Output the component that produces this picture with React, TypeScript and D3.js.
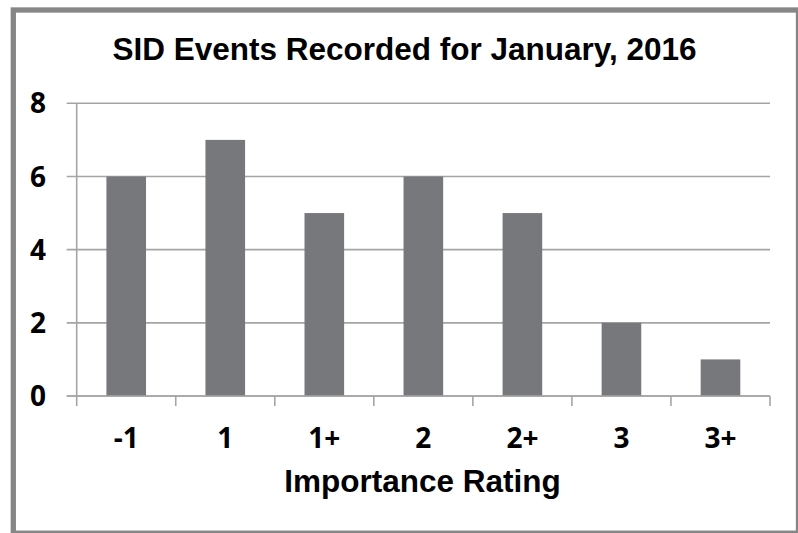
import React from "react";
import * as d3 from "d3";

const categories = ["-1", "1", "1+", "2", "2+", "3", "3+"];
const values = [6, 7, 5, 6, 5, 2, 1];
const yTicks = [0, 2, 4, 6, 8];
const title = "SID Events Recorded for January, 2016";
const xTitle = "Importance Rating";

export default function App() {
  const W = 798;
  const H = 533;
  const left = 76.7;
  const right = 770;
  const top = 103.3;
  const bottom = 396;

  const x = d3.scaleBand<string>().domain(categories).range([left, right]).paddingInner(0.6).paddingOuter(0.3);
  const xOuter = d3.scaleBand<string>().domain(categories).range([left, right]);
  const y = d3.scaleLinear().domain([0, 8]).range([bottom, top]);

  const gridColor = "#a5a5a5";
  const barColor = "#77787b";
  const tickFont = "'Open Sans', Lato, sans-serif";

  return (
    <svg
      width={W}
      height={H}
      viewBox={`0 0 ${W} ${H}`}
      style={{ position: "absolute", left: 0, top: 0, background: "#fff" }}
    >
      <rect x={0} y={0} width={W} height={H} fill="#fff" />
      <rect x={13.3} y={10} width={785.2} height={523.2} fill="none" stroke="#868686" strokeWidth={5.3} />

      <text
        x={404.5}
        y={60}
        textAnchor="middle"
        fontFamily="'Liberation Sans', Arial, sans-serif"
        fontWeight="bold"
        fontSize={31.5}
        fill="#000"
      >
        {title}
      </text>

      {yTicks.map((t) => (
        <g key={t}>
          <line x1={left - 10} x2={right} y1={y(t)} y2={y(t)} stroke={gridColor} strokeWidth={1.6} />
          <text
            x={46}
            y={y(t)}
            dy="0.36em"
            textAnchor="end"
            fontFamily={tickFont}
            fontWeight={700}
            fontSize={28}
            fill="#000"
          >
            {t}
          </text>
        </g>
      ))}

      {categories.map((c, i) => (
        <rect
          key={c}
          x={x(c)!}
          y={y(values[i])}
          width={x.bandwidth()}
          height={y(0) - y(values[i])}
          fill={barColor}
        />
      ))}

      <line x1={left} x2={left} y1={top} y2={bottom + 10} stroke={gridColor} strokeWidth={1.6} />
      <line x1={left - 10} x2={right} y1={bottom} y2={bottom} stroke={gridColor} strokeWidth={1.6} />
      {categories.map((c) => (
        <line
          key={"t" + c}
          x1={xOuter(c)! + xOuter.bandwidth()}
          x2={xOuter(c)! + xOuter.bandwidth()}
          y1={bottom}
          y2={bottom + 10}
          stroke={gridColor}
          strokeWidth={1.6}
        />
      ))}

      {categories.map((c) => (
        <text
          key={"l" + c}
          x={xOuter(c)! + xOuter.bandwidth() / 2}
          y={437.5}
          dy="0.36em"
          textAnchor="middle"
          fontFamily={tickFont}
          fontWeight={700}
          fontSize={28}
          fill="#000"
        >
          {c}
        </text>
      ))}

      <text
        x={422.5}
        y={491.7}
        textAnchor="middle"
        fontFamily="'Liberation Sans', Arial, sans-serif"
        fontWeight="bold"
        fontSize={31.5}
        fill="#000"
      >
        {xTitle}
      </text>
    </svg>
  );
}
